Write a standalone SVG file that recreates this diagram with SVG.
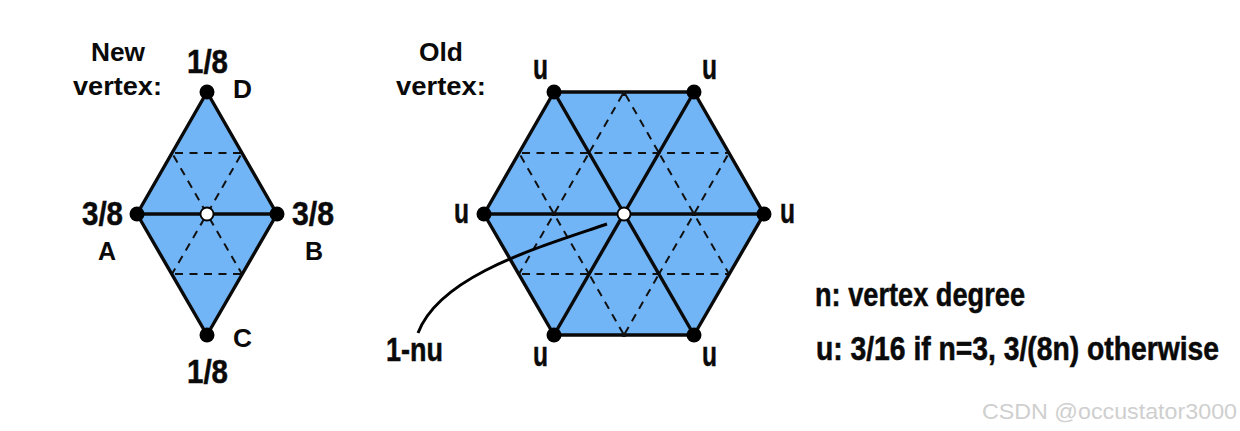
<svg xmlns="http://www.w3.org/2000/svg" width="1240" height="431" viewBox="0 0 1240 431">
<style>
text{font-family:"Liberation Sans",Arial,sans-serif;font-weight:700;fill:#0a0a0a}
.h{font-size:25px}
.l{font-size:25px}
.w,.u,.n{stroke:#0a0a0a;stroke-width:.5px}
.w{font-size:34px}
.u{font-size:35px}
.n{font-size:33px}
.m{font-size:27px;stroke:#0a0a0a;stroke-width:.45px}
.fill{fill:#72b5f6;stroke:none}
.e{stroke:#0a0a0a;stroke-width:3.4;fill:none;stroke-linejoin:round}
.d{stroke:#111;stroke-width:2;stroke-dasharray:8 6.5;stroke-dashoffset:-3;fill:none}
.t{stroke:#111;stroke-width:4;stroke-dasharray:4 400;fill:none}
.v{fill:#000}
.c{fill:#fff;stroke:#000;stroke-width:1.8}
</style>
<rect width="1240" height="431" fill="#fff"/>
<g id="diamond-face"><polygon class="fill" points="207,92 277,214 207,335 137,214"/></g>
<g id="hexagon-face"><polygon class="fill" points="554,92 694,92 764,214 694,335 554,335 484,214"/></g>
<g id="connectors">
<path class="d" d="M172 153H242M172 274H242M172 153L207 214L242 274M242 153L207 214L172 274"/>
<path class="d" d="M519 153H729M519 274H729M624 92L589 153M624 92L659 153M519 153L554 214L589 274M589 153L554 214L519 274M659 153L694 214L729 274M729 153L694 214L659 274M589 274L624 335M659 274L624 335"/>
<path class="e" d="M207 92L277 214L207 335L137 214ZM137 214H277"/>
<path class="e" d="M554 92H694L764 214L694 335H554L484 214ZM484 214H764M554 92L694 335M694 92L554 335"/>
<path class="t" d="M622 94h4M622 335h4M552 214h4M692 214h4"/>
<path d="M607 224C540 247 440 275 418 333" fill="none" stroke="#000" stroke-width="3"/>
</g>
<g id="new-vertex-label"><text class="h" x="118" y="61" text-anchor="middle" textLength="54" lengthAdjust="spacingAndGlyphs">New</text><text class="h" x="73" y="95" textLength="89" lengthAdjust="spacingAndGlyphs">vertex:</text></g>
<g id="vertex-D"><circle class="v" cx="207" cy="92" r="7.5"/><text class="w" x="187" y="73" textLength="41" lengthAdjust="spacingAndGlyphs">1/8</text><text class="l" x="233" y="98" textLength="19" lengthAdjust="spacingAndGlyphs">D</text></g>
<g id="vertex-A"><circle class="v" cx="137" cy="214" r="7.5"/><text class="w" x="82" y="225" textLength="41" lengthAdjust="spacingAndGlyphs">3/8</text><text class="l" x="107" y="260" text-anchor="middle">A</text></g>
<g id="vertex-B"><circle class="v" cx="277" cy="214" r="7.5"/><text class="w" x="292" y="225" textLength="42" lengthAdjust="spacingAndGlyphs">3/8</text><text class="l" x="314" y="260" text-anchor="middle">B</text></g>
<g id="vertex-C"><circle class="v" cx="207" cy="335" r="7.5"/><text class="w" x="187" y="383" textLength="41" lengthAdjust="spacingAndGlyphs">1/8</text><text class="l" x="233" y="347" textLength="19" lengthAdjust="spacingAndGlyphs">C</text></g>
<g id="new-vertex"><circle class="c" cx="207" cy="214" r="6.5"/></g>
<g id="old-vertex-label"><text class="h" x="441" y="61" text-anchor="middle" textLength="44" lengthAdjust="spacingAndGlyphs">Old</text><text class="h" x="396" y="95" textLength="90" lengthAdjust="spacingAndGlyphs">vertex:</text></g>
<g id="hex-top-left"><circle class="v" cx="554" cy="92" r="7.5"/><text class="u" x="533" y="79" textLength="15" lengthAdjust="spacingAndGlyphs">u</text></g>
<g id="hex-top-right"><circle class="v" cx="694" cy="92" r="7.5"/><text class="u" x="702" y="79" textLength="15" lengthAdjust="spacingAndGlyphs">u</text></g>
<g id="hex-left"><circle class="v" cx="484" cy="214" r="7.5"/><text class="u" x="454" y="223" textLength="15" lengthAdjust="spacingAndGlyphs">u</text></g>
<g id="hex-right"><circle class="v" cx="764" cy="214" r="7.5"/><text class="u" x="780" y="223" textLength="15" lengthAdjust="spacingAndGlyphs">u</text></g>
<g id="hex-bottom-left"><circle class="v" cx="554" cy="335" r="7.5"/><text class="u" x="533" y="366" textLength="15" lengthAdjust="spacingAndGlyphs">u</text></g>
<g id="hex-bottom-right"><circle class="v" cx="694" cy="335" r="7.5"/><text class="u" x="702" y="366" textLength="15" lengthAdjust="spacingAndGlyphs">u</text></g>
<g id="old-vertex"><circle class="c" cx="624" cy="214" r="6.5"/></g>
<g id="center-weight-label"><text class="w" x="386" y="361" textLength="57" lengthAdjust="spacingAndGlyphs">1-nu</text></g>
<g id="legend"><text class="n" x="815" y="306" textLength="210" lengthAdjust="spacingAndGlyphs">n: vertex degree</text><text class="m" transform="translate(816 360) scale(1 1.22)" x="0" y="0" textLength="403" lengthAdjust="spacingAndGlyphs">u: 3/16 if n=3, 3/(8n) otherwise</text></g>
<text x="982" y="419" font-size="22" textLength="255" lengthAdjust="spacingAndGlyphs" style="font-weight:400;fill:#cfcfcf">CSDN @occustator3000</text>
</svg>
